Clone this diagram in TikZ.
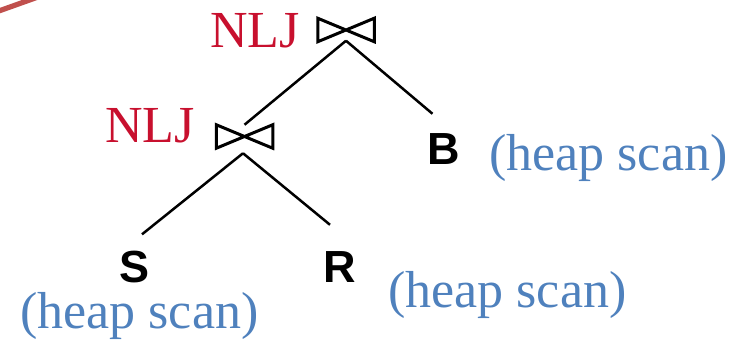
\documentclass[tikz,border=0pt]{standalone}
\usepackage{fontspec}
\setmainfont{Liberation Serif}
\setsansfont{Liberation Sans}
\usetikzlibrary{calc}
\definecolor{nljc}{RGB}{200,16,46}
\definecolor{scanc}{RGB}{79,129,189}
\definecolor{arcc}{RGB}{192,80,77}
\tikzstyle{tree} = [
  x=0.5pt,
  y=-0.5pt,
  line width=1.25pt,
]
\tikzstyle{joinbox} = [
  inner sep=0pt,
  minimum width=27pt,
  minimum height=10.5pt,
]
\tikzstyle{alg} = [
  inner sep=0pt,
  anchor=base west,
  text=nljc,
  font=\fontsize{26pt}{30pt}\selectfont,
]
\tikzstyle{scan} = [
  inner sep=0pt,
  anchor=base west,
  text=scanc,
  font=\fontsize{26pt}{30pt}\selectfont,
]
\tikzstyle{rel} = [
  inner sep=0pt,
  anchor=base,
  font=\fontsize{22.5pt}{26pt}\selectfont\sffamily\bfseries,
]

\begin{document}
\begin{tikzpicture}[tree]
      \useasboundingbox (0,0) rectangle (733,341);

      % Edge of a shape cut off at the corner
      \draw[arcc, line width=2.6pt] (-4,12) -- (38,-3);

      % Joins
      \node[joinbox] (j1) at (346,30) {};
      \node[joinbox] (j2) at (244.5,136.5) {};
      \draw[line width=1.5pt, line join=miter]
        (j1.north west) -- (j1.center) -- (j1.north east)
        -- (j1.south east) -- (j1.center) -- (j1.south west) -- cycle;
      \draw[line width=1.5pt, line join=miter]
        (j2.north west) -- (j2.center) -- (j2.north east)
        -- (j2.south east) -- (j2.center) -- (j2.south west) -- cycle;

      % Relations
      \node[rel] (B) at (443.5,165) {B};
      \node[rel] (S) at (135,283) {S};
      \node[rel] (R) at (340,283) {R};

      % Edges
      \draw ($(j1.south)+(0,-1)$) -- (j2.north);
      \draw ($(j1.south)+(0,-1)$) -- ($(B.north)+(-11,-19)$);
      \draw ($(j2.south)+(-1.5,5)$) -- ($(S.north)+(7,-16)$);
      \draw ($(j2.south)+(-1.5,5)$) -- ($(R.north)+(-10,-26)$);

      % Labels
      \node[alg] (nlj1) at (209,48) {NLJ};
      \node[alg] (nlj2) at (104,143) {NLJ};
      \node[scan] (scanB) at (488,171) {(heap scan)};
      \node[scan] (scanR) at (387,308) {(heap scan)};
      \node[scan] (scanS) at (19,329) {(heap scan)};
    \end{tikzpicture}
\end{document}
